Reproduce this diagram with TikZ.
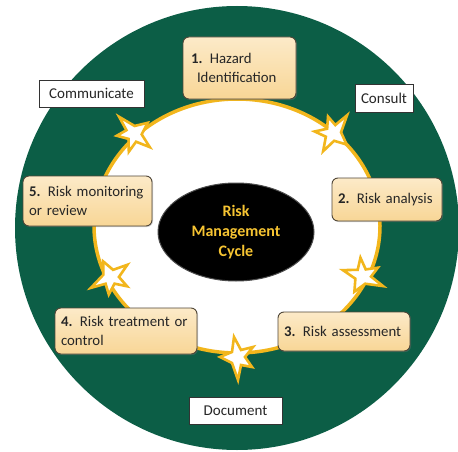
\documentclass[tikz,border=0pt]{standalone}
\usepackage{fontspec}
\setmainfont{Carlito}
\usetikzlibrary{shapes.geometric,shadows}
\definecolor{bggreen}{RGB}{12,94,70}
\definecolor{gold}{RGB}{242,182,28}
\definecolor{boxtop}{RGB}{252,234,200}
\definecolor{boxbot}{RGB}{248,214,150}
\definecolor{boxline}{RGB}{80,70,55}
\definecolor{ctext}{RGB}{246,196,50}
\tikzset{
  stepbox/.style={draw=boxline, line width=0.9pt, rounded corners=6pt,
    top color=boxtop, bottom color=boxbot, align=left, inner xsep=6pt, inner ysep=0pt,
    font=\fontsize{14.8}{19}\selectfont, text=black!85,
    execute at begin node={\hyphenpenalty=10000\relax\exhyphenpenalty=10000\relax},
    drop shadow={opacity=0.35, shadow xshift=1pt, shadow yshift=-1pt}},
  labelbox/.style={draw=black!80, line width=0.8pt, fill=white, inner sep=0pt,
    font=\fontsize{15}{18}\selectfont, text=black!85},
  burst/.pic={\draw[draw=gold, line width=2.6pt, fill=white, line join=miter, miter limit=6]
     (17pt,-1pt) -- (5pt,-6pt) -- (3pt,-21pt) -- (-4pt,-8pt) -- (-16pt,-11pt) -- (-8pt,-1pt)
     -- (-15pt,9pt) -- (-4pt,7pt) -- (-1pt,22pt) -- (5pt,5pt) -- cycle;}
}
\begin{document}
\begin{tikzpicture}[x=1pt,y=-1pt]
\useasboundingbox (0,0) rectangle (458,452);
\fill[white] (0,0) rectangle (458,452);
% green disc
\fill[bggreen] (237,228) circle[radius=222pt];
% white ring
\draw[gold, line width=3.5pt, fill=white] (237,226) ellipse[x radius=143pt, y radius=127pt];
% bursts (clockwise arrows)
\pic[rotate=40] at (134,133) {burst};
\pic[rotate=-39] at (334,133) {burst};
\pic[rotate=-117] at (363,277) {burst};
\pic[rotate=180] at (237,358) {burst};
\pic[rotate=117] at (110,277) {burst};
% centre
\node[ellipse, minimum width=156pt, minimum height=98pt, fill=black,
      draw=black!70, line width=1pt, align=center, text=ctext,
      font=\fontsize{16}{20}\selectfont\bfseries] (centre) at (236,232) {Risk\\Management\\Cycle};
% steps
\node[stepbox, minimum width=113pt, minimum height=62pt, text width=97pt, inner xsep=8pt] (s1) at (239.5,68)
  {\textbf{1.} Hazard\\\hspace*{6pt}Identification};
\node[stepbox, minimum width=110pt, minimum height=43pt, text width=98pt] (s2) at (387,199.5)
  {\textbf{2.} Risk analysis};
\node[stepbox, minimum width=132pt, minimum height=39pt, text width=120pt] (s3) at (344,331.5)
  {\textbf{3.} Risk assessment};
\node[stepbox, minimum width=142pt, minimum height=46pt, text width=130pt] (s4) at (126,331)
  {\textbf{4.} Risk treatment or\\control};
\node[stepbox, minimum width=129pt, minimum height=50pt, text width=117pt] (s5) at (87.5,201)
  {\textbf{5.} Risk monitoring\\or review};
% labels
\node[labelbox, minimum width=105pt, minimum height=27pt] (comm) at (91.5,93.5) {Communicate};
\node[labelbox, minimum width=58pt, minimum height=28pt] (cons) at (384,98) {Consult};
\node[labelbox, minimum width=93pt, minimum height=27pt] (doc) at (235.5,410.5) {Document};
\end{tikzpicture}
\end{document}
